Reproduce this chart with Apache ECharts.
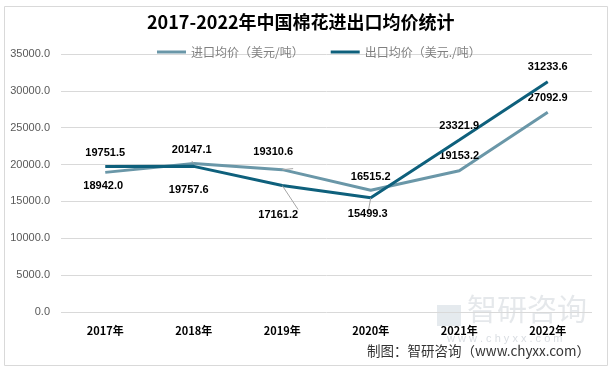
<!DOCTYPE html>
<html><head><meta charset="utf-8">
<script src="https://cdn.jsdelivr.net/npm/echarts@6/dist/echarts.min.js"></script>
<style>html,body{margin:0;padding:0;background:#fff}#c{width:608px;height:366px}</style>
</head><body><div id="c"></div>
<script>
var categories = ['2017年','2018年','2019年','2020年','2021年','2022年'];
var importValues = [18942.0, 20147.1, 19310.6, 16515.2, 19153.2, 27092.9];
var exportValues = [19751.5, 19757.6, 17161.2, 15499.3, 23321.9, 31233.6];
var seriesNames = ['进口均价（美元/吨）', '出口均价（美元./吨）'];
var yTicks = [0, 5000, 10000, 15000, 20000, 25000, 30000, 35000];

// label placement per point: [position, distance, dx, showGuide]
var importLabelPos = [['bottom',8,-2,false],['top',8,-2,true],['top',12,-9,true],['top',8,0,false],['top',9,0,false],['top',9,0,false]];
var exportLabelPos = [['top',8,0,false],['bottom',18,-5,false],['bottom',24,-4,true],['bottom',11,-3,true],['top',9,0,false],['top',9,0,false]];

function build(values, pos){
  return values.map(function(v,i){
    var p = pos[i];
    return {value: v, label:{position:p[0], distance:p[1], offset:[p[2],0]},
      labelLine:{show:p[3], lineStyle:{color:'#a6a6a6', width:1}}};
  });
}

var chart = echarts.init(document.getElementById('c'));
var labelStyle = {show:true, color:'#000', fontWeight:'bold', fontSize:11, fontFamily:'Liberation Sans',
  formatter:function(p){return p.value.toFixed(1);}};
chart.setOption({
  animation:false,
  title:{text:'2017-2022年中国棉花进出口均价统计', left:142, top:8,
    textStyle:{fontSize:18, fontWeight:'bold', color:'#000', fontFamily:'Noto Sans CJK SC'}},
  legend:{top:41, left:152, itemWidth:29, itemHeight:3, itemGap:27, icon:'rect',
    textStyle:{color:'#808080', fontSize:12, fontFamily:'Noto Sans CJK SC'}, data:seriesNames},
  grid:{left:61, right:16, top:54, bottom:54},
  xAxis:{type:'category', data:categories, boundaryGap:true,
    axisLine:{show:false}, axisTick:{show:false},
    axisLabel:{color:'#000', fontWeight:'bold', fontSize:11, margin:13, fontFamily:'Noto Sans CJK SC'}},
  yAxis:{type:'value', min:yTicks[0], max:yTicks[yTicks.length-1], interval:5000,
    axisLine:{show:false}, axisTick:{show:false},
    splitLine:{lineStyle:{color:'#d9d9d9'}},
    axisLabel:{color:'#595959', fontSize:11, margin:11, fontFamily:'Liberation Sans',
      formatter:function(v){return v.toFixed(1);}}},
  series:[
    {name:seriesNames[0], type:'line', data:build(importValues, importLabelPos), symbol:'circle', symbolSize:0.1, showSymbol:true,
      lineStyle:{color:'#6a97a8', width:3}, itemStyle:{color:'#6a97a8'}, label:labelStyle, z:2},
    {name:seriesNames[1], type:'line', data:build(exportValues, exportLabelPos), symbol:'circle', symbolSize:0.1, showSymbol:true,
      lineStyle:{color:'#0e607c', width:3}, itemStyle:{color:'#0e607c'}, label:labelStyle, z:3}
  ],
  graphic:[
    {type:'rect', left:2, top:4, shape:{width:603, height:359}, style:{fill:'none', stroke:'#d9d9d9', lineWidth:1}, silent:true},
    {type:'rect', left:437, top:305, shape:{width:24, height:21}, style:{fill:'rgba(170,185,200,0.3)'}, z:0},
    {type:'text', left:467, top:294, style:{text:'智研咨询', fontSize:30, fill:'rgba(170,180,190,0.3)', fontFamily:'Noto Sans CJK SC'}, z:0},
    {type:'text', left:447, top:333, style:{text:'w w w . c h y x x . c o m', fontSize:11, fill:'rgba(170,180,190,0.45)', fontFamily:'Liberation Sans'}, z:0},
    {type:'text', left:367, top:344, style:{text:'制图：智研咨询（www.chyxx.com）', fontSize:13.5, fill:'#333', fontFamily:'Noto Sans CJK SC'}}
  ]
});
</script></body></html>
